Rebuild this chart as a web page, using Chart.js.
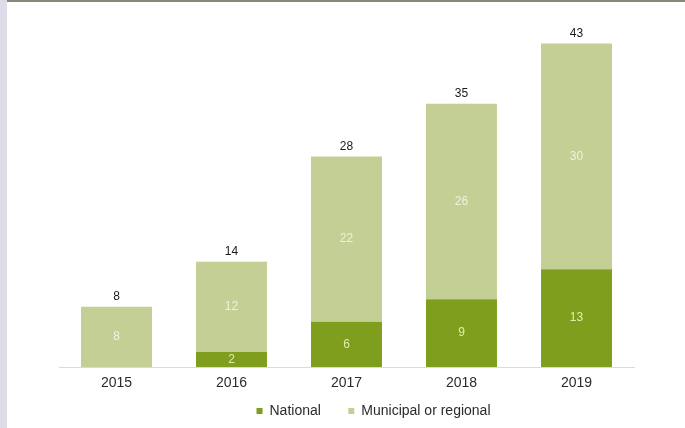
<!DOCTYPE html>
<html>
<head>
<meta charset="utf-8">
<script src="https://cdn.jsdelivr.net/npm/chart.js@4.4.1/dist/chart.umd.min.js"></script>
<style>
  html, body { margin: 0; padding: 0; background: #fff; overflow: hidden; }
  #strip { position: absolute; left: 0; top: 0; width: 7px; height: 428px; background: #dcdde9; }
  #rule { position: absolute; left: 7px; top: 0; width: 678px; height: 2px; background: #868878; }
  #wrap { position: absolute; left: 7px; top: 0; width: 678px; height: 428px; }
</style>
</head>
<body>
<div id="strip"></div>
<div id="wrap"><canvas id="chart"></canvas></div>
<div id="rule"></div>
<script>
const years = ['2015', '2016', '2017', '2018', '2019']
const national = [0, 2, 6, 9, 13]
const municipal = [8, 12, 22, 26, 30]
const seriesNames = ['National', 'Municipal or regional']

const darkGreen = '#7f9e1e'
const lightGreen = '#c3cf94'
const font = '"Liberation Sans", Arial, sans-serif'

// values inside each segment plus the stack total on top
const stackLabels = {
    id: 'stackLabels',
    afterDatasetsDraw(chart) {
        const ctx = chart.ctx
        ctx.save()
        ctx.textAlign = 'center'
        ctx.font = '12px ' + font
        ctx.textBaseline = 'middle'
        chart.data.datasets.forEach((ds, i) => {
            chart.getDatasetMeta(i).data.forEach((bar, j) => {
                const v = ds.data[j]
                if (!v) return
                ctx.fillStyle = i === 0 ? '#e4eca6' : '#eef2de'
                ctx.fillText(v, bar.x, (bar.y + bar.base) / 2)
            })
        })
        ctx.fillStyle = '#1a1a1a'
        ctx.textBaseline = 'bottom'
        chart.getDatasetMeta(1).data.forEach((bar, j) => {
            ctx.fillText(national[j] + municipal[j], bar.x, bar.y - 4)
        })
        ctx.restore()
    }
}

// legend sits a little right of the plot centre
const legendShift = {
    id: 'legendShift',
    afterLayout(chart) {
        chart.legend.left += 27
        chart.legend.right += 27
    }
}

new Chart(document.getElementById('chart'), {
    type: 'bar',
    data: {
        labels: years,
        datasets: [
            { label: seriesNames[0], data: national, backgroundColor: darkGreen },
            { label: seriesNames[1], data: municipal, backgroundColor: lightGreen }
        ]
    },
    options: {
        responsive: true,
        maintainAspectRatio: false,
        animation: false,
        categoryPercentage: 1,
        barPercentage: 0.617,
        layout: { padding: { left: 52, right: 51, top: 21, bottom: 0 } },
        scales: {
            x: {
                stacked: true,
                grid: { display: false, drawTicks: false },
                border: { display: true, color: '#dadada' },
                ticks: { color: '#2b2b2b', padding: 8, font: { size: 14, family: font } },
                afterFit(scale) { scale.height = 29 }
            },
            y: {
                stacked: true,
                display: false,
                min: 0,
                max: 46
            }
        },
        plugins: {
            tooltip: { enabled: false },
            legend: {
                position: 'bottom',
                labels: {
                    boxWidth: 6,
                    boxHeight: 6,
                    padding: 8,
                    color: '#2b2b2b',
                    font: { size: 14, family: font },
                    generateLabels(chart) {
                        return chart.data.datasets.map((ds, i) => ({
                            text: i === 0 ? ds.label + '\u00a0\u00a0\u00a0\u00a0\u00a0' : ds.label,
                            fillStyle: ds.backgroundColor,
                            strokeStyle: ds.backgroundColor,
                            lineWidth: 0,
                            fontColor: '#2b2b2b',
                            datasetIndex: i
                        }))
                    }
                }
            }
        }
    },
    plugins: [stackLabels, legendShift]
})
</script>
</body>
</html>
